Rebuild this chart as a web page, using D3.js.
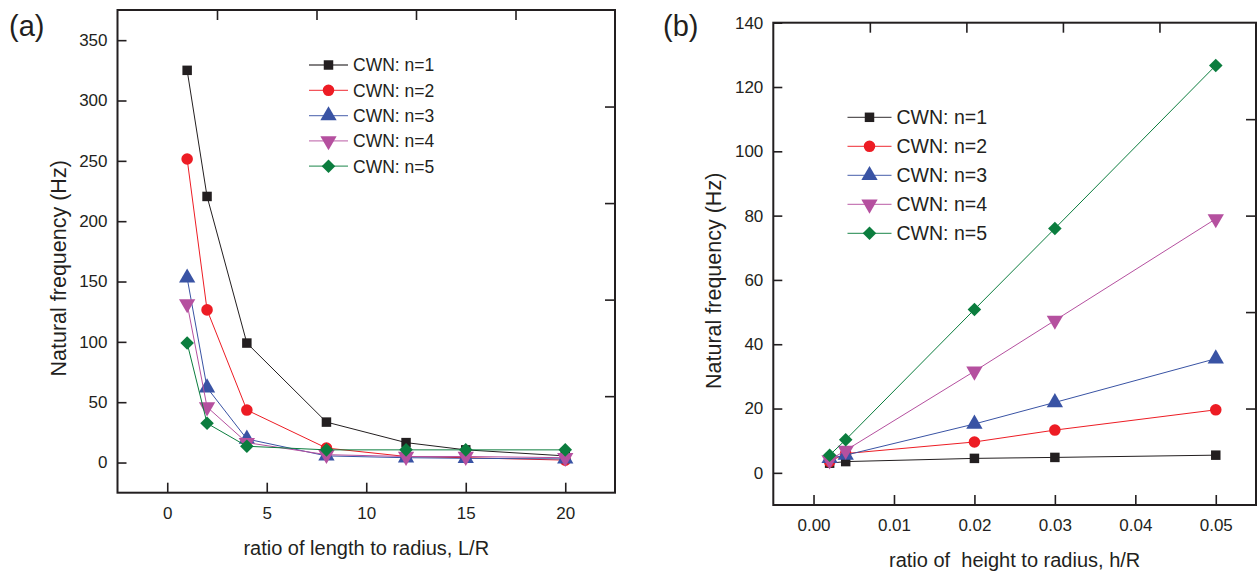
<!DOCTYPE html>
<html>
<head>
<meta charset="utf-8">
<script src="https://cdn.jsdelivr.net/npm/d3@7"></script>
<style>
    body { margin: 0; background: #fff; }
    text { font-family: "Liberation Sans", Arial, sans-serif; fill: #231f20; }
</style>
</head>
<body>
<div id="chart-area"></div>
<script>
/*
*    natural frequency panels (a) and (b)
*/

var width = 1257;
var height = 575;

var seriesNames = ["CWN: n=1", "CWN: n=2", "CWN: n=3", "CWN: n=4", "CWN: n=5"];
var seriesColors = ["#231f20", "#ed1c24", "#3953a4", "#b5509f", "#0b7d3e"];
var seriesShapes = ["square", "circle", "triangleUp", "triangleDown", "diamond"];

// panel (a)
var lengthRatio = [1, 2, 4, 8, 12, 15, 20];
var freqA1 = [325, 220.5, 99, 33.5, 16.5, 10.5, 5.5];
var freqA2 = [251.5, 126.5, 43.5, 12, 5, 4, 2];
var freqA3 = [153, 62, 19.5, 5.5, 4, 3.5, 3];
var freqA4 = [131.5, 46, 16.5, 6.5, 5, 5, 4];
var freqA5 = [99, 32.5, 13.5, 10.5, 10.5, 10.5, 10.5];
var xTicksA = [0, 5, 10, 15, 20];
var yTicksA = [0, 50, 100, 150, 200, 250, 300, 350];

// panel (b)
var heightRatio = [0.002, 0.004, 0.02, 0.03, 0.05];
var freqB1 = [3, 3.5, 4.5, 4.8, 5.5];
var freqB2 = [3.5, 6, 9.6, 13.3, 19.6];
var freqB3 = [4.5, 5.5, 15.2, 21.9, 35.5];
var freqB4 = [4, 7, 31.6, 47.4, 79];
var freqB5 = [5.5, 10.3, 50.8, 76, 126.7];
var xTicksB = [0, 0.01, 0.02, 0.03, 0.04, 0.05];
var yTicksB = [0, 20, 40, 60, 80, 100, 120, 140];

var svg = d3.select("#chart-area").append("svg")
    .attr("width", width)
    .attr("height", height);

function symbolPath(shape) {
    if (shape == "square") return d3.symbol(d3.symbolSquare, 90)();
    if (shape == "circle") return d3.symbol(d3.symbolCircle, 105)();
    if (shape == "diamond") return d3.symbol(d3.symbolSquare, 92)();
    return d3.symbol(d3.symbolTriangle, 115)();
}

function symbolRotate(shape) {
    if (shape == "triangleDown") return " rotate(180)";
    if (shape == "diamond") return " rotate(45)";
    return "";
}

function drawPanel(p) {
    var g = svg.append("g")
        .attr("transform", "translate(" + p.left + ", " + p.top + ")");

    var x = d3.scaleLinear().domain(p.xDomain).range([0, p.w]);
    var y = d3.scaleLinear().domain(p.yDomain).range([p.h, 0]);

    // x Axis
    g.append("g")
        .attr("class", "x axis")
        .attr("transform", "translate(0, " + p.h + ")")
        .call(d3.axisBottom(x).tickValues(p.xTicks).tickFormat(p.xFormat)
            .tickSizeInner(-10).tickSizeOuter(0).tickPadding(14));

    // y Axis
    g.append("g")
        .attr("class", "y axis")
        .call(d3.axisLeft(y).tickValues(p.yTicks).tickFormat(d3.format("d"))
            .tickSizeInner(-9).tickSizeOuter(0).tickPadding(10));

    // opposite axes, five equal steps over the domain
    var topTicks = d3.range(1, 5).map((i) => p.xDomain[0] + i * (p.xDomain[1] - p.xDomain[0]) / 5);
    var rightTicks = d3.range(1, 5).map((i) => p.yDomain[0] + i * (p.yDomain[1] - p.yDomain[0]) / 5);
    g.append("g")
        .call(d3.axisTop(x).tickValues(topTicks).tickFormat("").tickSizeInner(-10).tickSizeOuter(0));
    g.append("g")
        .attr("transform", "translate(" + p.w + ", 0)")
        .call(d3.axisRight(y).tickValues(rightTicks).tickFormat("").tickSizeInner(-10).tickSizeOuter(0));

    g.selectAll(".domain").remove();
    g.selectAll(".tick line").attr("stroke", "#231f20").attr("stroke-width", 1.6);
    g.selectAll(".tick text")
        .style("font-size", "17px")
        .style("font-family", "'Liberation Sans', Arial, sans-serif")
        .attr("fill", "#231f20");

    g.append("rect")
        .attr("width", p.w)
        .attr("height", p.h)
        .attr("fill", "none")
        .attr("stroke", "#231f20")
        .attr("stroke-width", 2);

    // x Label
    g.append("text")
        .attr("x", p.w / 2)
        .attr("y", p.h + p.xLabelOffset)
        .attr("text-anchor", "middle")
        .style("font-size", "20px")
        .style("white-space", "pre")
        .text(p.xLabel);

    // y Label
    g.append("text")
        .attr("x", -(p.h / 2) - 17)
        .attr("y", p.yLabelOffset)
        .attr("text-anchor", "middle")
        .attr("transform", "rotate(-90)")
        .style("font-size", "21.5px")
        .text("Natural frequency (Hz)");

    // panel letter
    svg.append("text")
        .attr("x", p.letterX)
        .attr("y", 36)
        .style("font-size", "29px")
        .text(p.letter);

    var line = d3.line()
        .x((d) => x(d.x))
        .y((d) => y(d.y));

    p.series.forEach((vals, i) => {
        var pts = p.xs.map((xv, j) => ({ x: xv, y: vals[j] }));
        g.append("path")
            .datum(pts)
            .attr("d", line)
            .attr("fill", "none")
            .attr("stroke", seriesColors[i])
            .attr("stroke-width", 1);
        g.selectAll(".pt" + i)
            .data(pts)
            .enter()
            .append("path")
                .attr("class", "pt" + i)
                .attr("d", symbolPath(seriesShapes[i]))
                .attr("transform", (d) => "translate(" + x(d.x) + ", " + y(d.y) + ")" + symbolRotate(seriesShapes[i]))
                .attr("fill", seriesColors[i]);
    });

    // legend
    var leg = svg.append("g");
    seriesNames.forEach((name, i) => {
        var ly = p.legY + i * p.legStep;
        leg.append("line")
            .attr("x1", p.legX).attr("x2", p.legX + p.legLine)
            .attr("y1", ly).attr("y2", ly)
            .attr("stroke", seriesColors[i])
            .attr("stroke-opacity", 0.75)
            .attr("stroke-width", 1.3);
        leg.append("path")
            .attr("d", symbolPath(seriesShapes[i]))
            .attr("transform", "translate(" + (p.legX + p.legLine / 2) + ", " + ly + ")" + symbolRotate(seriesShapes[i]))
            .attr("fill", seriesColors[i]);
        leg.append("text")
            .attr("x", p.legX + p.legLine + 5)
            .attr("y", ly)
            .attr("dy", "0.36em")
            .style("font-size", p.legFont + "px")
            .text(name);
    });
}

drawPanel({
    left: 117.5, top: 10, w: 497.5, h: 482.7,
    xDomain: [-2.5, 22.5], yDomain: [-25, 375],
    xTicks: xTicksA, yTicks: yTicksA, xFormat: d3.format("d"),
    xs: lengthRatio, series: [freqA1, freqA2, freqA3, freqA4, freqA5],
    xLabel: "ratio of length to radius, L/R", xLabelOffset: 62, yLabelOffset: -52,
    letter: "(a)", letterX: 9,
    legX: 309, legY: 65, legStep: 25.3, legLine: 39, legFont: 17.5
});

drawPanel({
    left: 773.3, top: 22.7, w: 482.7, h: 482.3,
    xDomain: [-0.005, 0.055], yDomain: [-10, 140],
    xTicks: xTicksB, yTicks: yTicksB, xFormat: d3.format(".2f"),
    xs: heightRatio, series: [freqB1, freqB2, freqB3, freqB4, freqB5],
    xLabel: "ratio of  height to radius, h/R", xLabelOffset: 62, yLabelOffset: -52,
    letter: "(b)", letterX: 663,
    legX: 847.5, legY: 117.3, legStep: 29, legLine: 44, legFont: 19.5
});
</script>
</body>
</html>
